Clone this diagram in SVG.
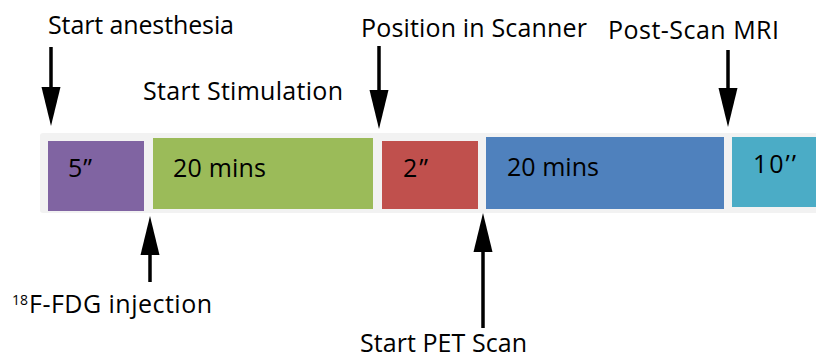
<svg xmlns="http://www.w3.org/2000/svg" width="816" height="360" viewBox="0 0 816 360">
<style>
text{font-family:"Open Sans","Noto Sans",sans-serif;font-size:25px;fill:#000}
text.sup{font-size:14px}
.ln{stroke:#000;stroke-width:3.5;fill:none}
</style>
<defs>
<marker id="ah" markerUnits="userSpaceOnUse" markerWidth="40" markerHeight="20" refX="0" refY="10" orient="auto" viewBox="0 0 40 20">
<path d="M0,0.5 L39,10 L0,19.5 z" fill="#000"/>
</marker>
</defs>
<rect width="816" height="360" fill="#fff"/>
<rect id="strip" x="40" y="133" width="790" height="80" rx="3" fill="#f2f2f2"/>
<g id="box-anesthesia"><rect x="48" y="141" width="96" height="70" fill="#8064a2"/><text x="68" y="177" textLength="24">5”</text></g>
<g id="box-stimulation"><rect x="153" y="138" width="220" height="71" fill="#9bbb59"/><text x="173" y="177" textLength="93">20 mins</text></g>
<g id="box-position"><rect x="382" y="141" width="96" height="68" fill="#c0504d"/><text x="403" y="177" textLength="25">2”</text></g>
<g id="box-pet"><rect x="486" y="137" width="238" height="72" fill="#4f81bd"/><text x="507" y="176" textLength="92">20 mins</text></g>
<g id="box-mri"><rect x="732" y="137" width="84" height="70" fill="#4bacc6"/><text x="753" y="173" textLength="43">10’’</text></g>
<g id="label-anesthesia"><text x="48" y="34" textLength="186">Start anesthesia</text></g>
<g id="label-stimulation"><text x="143" y="100" textLength="200">Start Stimulation</text></g>
<g id="label-position"><text x="361" y="37" textLength="226">Position in Scanner</text></g>
<g id="label-mri"><text x="608" y="39" textLength="171">Post-Scan MRI</text></g>
<g id="label-fdg"><text class="sup" x="12" y="305">18</text><text x="29" y="313" textLength="183">F-FDG injection</text></g>
<g id="label-pet"><text x="360" y="352" textLength="167">Start PET Scan</text></g>
<g id="connectors">
<line class="ln" x1="51" y1="47" x2="51" y2="87" marker-end="url(#ah)"/>
<line class="ln" x1="379" y1="46" x2="379" y2="90" marker-end="url(#ah)"/>
<line class="ln" x1="728" y1="50" x2="728" y2="88" marker-end="url(#ah)"/>
<line class="ln" x1="150" y1="282" x2="150" y2="255" marker-end="url(#ah)"/>
<line class="ln" x1="483" y1="328" x2="483" y2="252" marker-end="url(#ah)"/>
</g>
</svg>
